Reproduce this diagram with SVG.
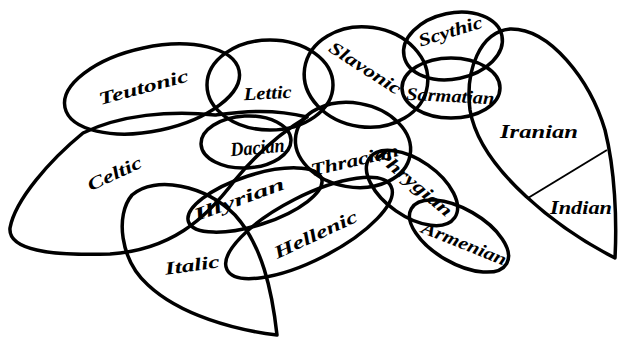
<svg xmlns="http://www.w3.org/2000/svg" width="618" height="338" viewBox="0 0 618 338">
<style>
.s{fill:none;stroke:#000;stroke-width:3.5;stroke-linejoin:round}
.d{fill:none;stroke:#000;stroke-width:2}
text{font-family:"Liberation Serif","DejaVu Serif",serif;font-style:italic;font-weight:bold;font-size:18px;text-anchor:middle;fill:#000}
</style>
<rect width="618" height="338" fill="#fff"/>
<g id="celtic"><path class="s" d="M83,133 C50,160 15,200 10,228 C8,250 50,256 110,254 C170,250 205,220 235,180 C260,150 285,130 307,117 C270,108 240,112 215,115 C170,110 120,115 83,133 Z"/><text transform="translate(117,179) rotate(-25)" textLength="58" lengthAdjust="spacingAndGlyphs">Celtic</text></g>
<g id="teutonic"><ellipse class="s" cx="152" cy="89" rx="89" ry="42" transform="rotate(-12 152 89)"/><text transform="translate(145,93) rotate(-15)" textLength="92" lengthAdjust="spacingAndGlyphs">Teutonic</text></g>
<g id="lettic"><ellipse class="s" cx="270" cy="85" rx="63" ry="45"/><text transform="translate(268,99) rotate(-3)" textLength="48" lengthAdjust="spacingAndGlyphs">Lettic</text></g>
<g id="slavonic"><ellipse class="s" cx="366" cy="77" rx="62" ry="50" transform="rotate(8 366 77)"/><text transform="translate(362,73) rotate(33)" textLength="82" lengthAdjust="spacingAndGlyphs">Slavonic</text></g>
<g id="scythic"><ellipse class="s" cx="453" cy="46" rx="50" ry="33" transform="rotate(-12 453 46)"/><text transform="translate(452,37) rotate(-17)" textLength="66" lengthAdjust="spacingAndGlyphs">Scythic</text></g>
<g id="sarmatian"><ellipse class="s" cx="451" cy="88" rx="49" ry="30"/><text transform="translate(450,102) rotate(3)" textLength="88" lengthAdjust="spacingAndGlyphs">Sarmatian</text></g>
<g id="iranian"><path class="s" d="M615,258 C560,230 480,170 470,110 C465,70 480,32 510,29 C550,28 590,80 605,130 C615,170 617,220 615,258 Z"/><text x="539" y="138" textLength="78" lengthAdjust="spacingAndGlyphs">Iranian</text></g>
<g id="indian"><path class="d" d="M607,150 L528,198"/><text x="581" y="214" textLength="62" lengthAdjust="spacingAndGlyphs">Indian</text></g>
<g id="dacian"><ellipse class="s" cx="246" cy="142" rx="45" ry="26" transform="rotate(-3 246 142)"/><text transform="translate(258,154) rotate(-5)" style="font-size:20px" textLength="54" lengthAdjust="spacingAndGlyphs">Dacian</text></g>
<g id="thracian"><ellipse class="s" cx="353" cy="145" rx="58" ry="42" transform="rotate(10 353 145)"/><text transform="translate(356,166) rotate(-13)" textLength="90" lengthAdjust="spacingAndGlyphs">Thracian</text></g>
<g id="illyrian"><ellipse class="s" cx="255" cy="200" rx="70" ry="25" transform="rotate(-18 255 200)"/><text transform="translate(241,205) rotate(-20)" textLength="95" lengthAdjust="spacingAndGlyphs">Illyrian</text></g>
<g id="hellenic"><ellipse class="s" cx="309" cy="228" rx="92" ry="32" transform="rotate(-27 309 228)"/><text transform="translate(318,240) rotate(-25)" textLength="90" lengthAdjust="spacingAndGlyphs">Hellenic</text></g>
<g id="phrygian"><ellipse class="s" cx="412" cy="188" rx="52" ry="28" transform="rotate(35 412 188)"/><text transform="translate(410,187) rotate(40)" textLength="95" lengthAdjust="spacingAndGlyphs">Phrygian</text></g>
<g id="armenian"><ellipse class="s" cx="459" cy="236" rx="55" ry="27" transform="rotate(30 459 236)"/><text transform="translate(462,249) rotate(22)" textLength="90" lengthAdjust="spacingAndGlyphs">Armenian</text></g>
<g id="italic"><path class="s" d="M277,335 C272,290 262,245 235,215 C205,185 155,175 132,195 C115,215 120,260 148,285 C180,315 235,330 277,335 Z"/><text transform="translate(193,271) rotate(-8)" textLength="55" lengthAdjust="spacingAndGlyphs">Italic</text></g>
<g id="connectors"></g>
</svg>
